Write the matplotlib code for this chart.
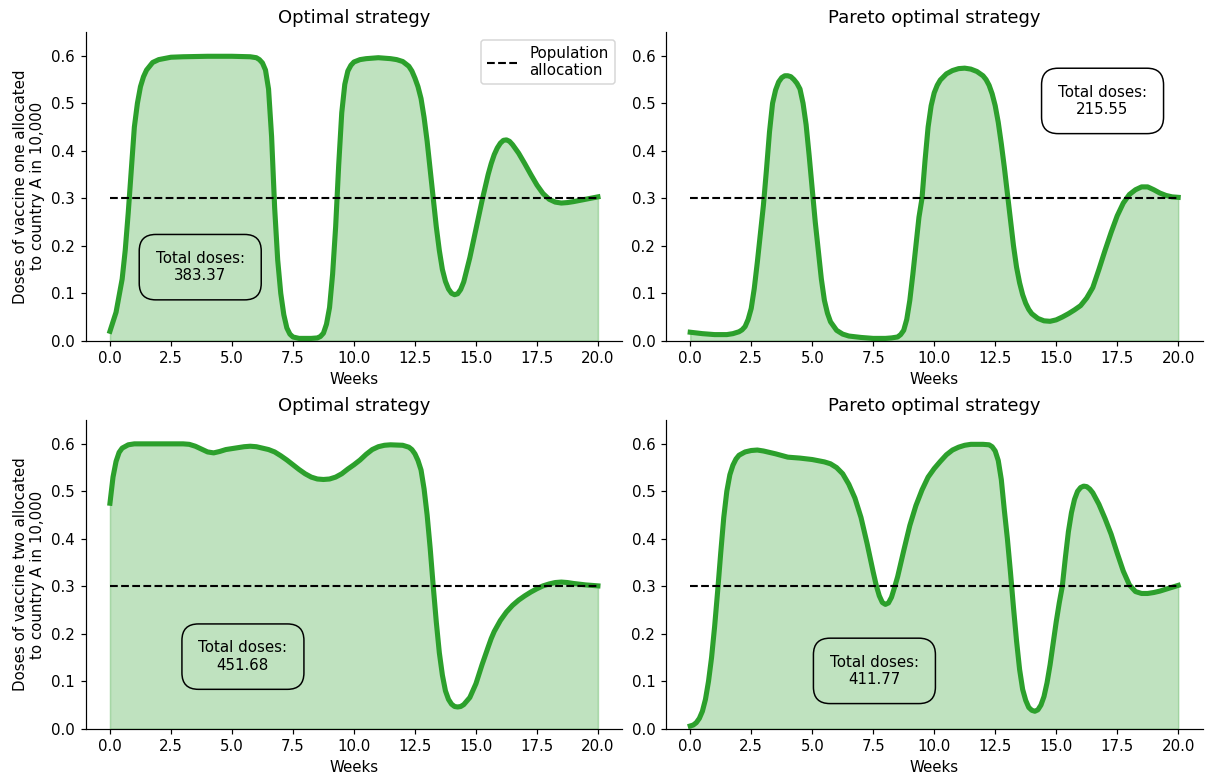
import matplotlib
matplotlib.use('Agg')
import matplotlib.pyplot as plt

# Vaccine one, optimal strategy
v1_opt_weeks = [0, 0.25, 0.5, 0.625, 0.75, 0.875, 1.0, 1.125, 1.25, 1.375, 1.5, 1.75, 2.0, 2.5,
                3.0, 4.0, 5.0, 5.75, 6.0, 6.125, 6.25, 6.375, 6.5, 6.625, 6.75, 6.875, 7.0,
                7.125, 7.25, 7.375, 7.5, 7.75, 8.0, 8.25, 8.5, 8.625, 8.75, 8.875, 9.0, 9.125,
                9.25, 9.375, 9.5, 9.625, 9.75, 9.875, 10.0, 10.25, 10.5, 11.0, 11.5, 11.75,
                12.0, 12.25, 12.375, 12.5, 12.625, 12.75, 12.875, 13.0, 13.125, 13.25, 13.375,
                13.5, 13.625, 13.75, 13.875, 14.0, 14.125, 14.25, 14.375, 14.5, 14.75, 15.0,
                15.25, 15.5, 15.625, 15.75, 15.875, 16.0, 16.125, 16.25, 16.375, 16.5, 16.75,
                17.0, 17.25, 17.5, 17.75, 18.0, 18.25, 18.5, 18.75, 19.0, 19.5, 20.0]
v1_opt_doses = [0.02, 0.06, 0.13, 0.19, 0.27, 0.36, 0.45, 0.50, 0.535, 0.556, 0.57, 0.586, 0.592,
                0.597, 0.598, 0.599, 0.599, 0.598, 0.596, 0.592, 0.585, 0.57, 0.53, 0.43, 0.28,
                0.17, 0.10, 0.055, 0.027, 0.014, 0.008, 0.005, 0.005, 0.005, 0.006, 0.009, 0.016,
                0.035, 0.07, 0.14, 0.24, 0.37, 0.48, 0.54, 0.568, 0.58, 0.587, 0.592, 0.594,
                0.596, 0.594, 0.592, 0.588, 0.578, 0.568, 0.553, 0.535, 0.51, 0.47, 0.42, 0.36,
                0.30, 0.24, 0.19, 0.15, 0.125, 0.109, 0.10, 0.097, 0.099, 0.108, 0.124, 0.175,
                0.235, 0.295, 0.35, 0.373, 0.392, 0.406, 0.416, 0.422, 0.423, 0.42, 0.413, 0.395,
                0.373, 0.35, 0.328, 0.31, 0.298, 0.292, 0.29, 0.291, 0.293, 0.298, 0.303]

# Vaccine one, Pareto optimal strategy
v1_par_weeks = [0, 0.5, 1.0, 1.5, 1.75, 2.0, 2.125, 2.25, 2.375, 2.5, 2.625, 2.75, 2.875, 3.0,
                3.125, 3.25, 3.375, 3.5, 3.625, 3.75, 3.875, 4.0, 4.125, 4.25, 4.375, 4.5,
                4.625, 4.75, 4.875, 5.0, 5.125, 5.25, 5.375, 5.5, 5.625, 5.75, 6.0, 6.25, 6.5,
                7.0, 7.5, 8.0, 8.25, 8.5, 8.625, 8.75, 8.875, 9.0, 9.125, 9.25, 9.375, 9.5,
                9.625, 9.75, 9.875, 10.0, 10.125, 10.25, 10.5, 10.75, 11.0, 11.25, 11.5, 11.75,
                12.0, 12.125, 12.25, 12.375, 12.5, 12.625, 12.75, 12.875, 13.0, 13.125, 13.25,
                13.375, 13.5, 13.625, 13.75, 13.875, 14.0, 14.25, 14.5, 14.75, 15.0, 15.25,
                15.5, 15.75, 16.0, 16.25, 16.5, 16.75, 17.0, 17.25, 17.5, 17.75, 18.0, 18.25,
                18.5, 18.75, 19.0, 19.25, 19.5, 19.75, 20.0]
v1_par_doses = [0.018, 0.015, 0.013, 0.013, 0.015, 0.019, 0.023, 0.03, 0.045, 0.068, 0.11, 0.165,
                0.225, 0.285, 0.36, 0.44, 0.5, 0.528, 0.545, 0.554, 0.558, 0.558, 0.556, 0.55,
                0.542, 0.53, 0.5, 0.455, 0.39, 0.32, 0.25, 0.19, 0.13, 0.085, 0.058, 0.04, 0.022,
                0.014, 0.01, 0.007, 0.005, 0.005, 0.006, 0.008, 0.013, 0.022, 0.045, 0.085, 0.14,
                0.2, 0.26, 0.30, 0.38, 0.45, 0.495, 0.522, 0.538, 0.549, 0.562, 0.569, 0.573,
                0.574, 0.572, 0.567, 0.558, 0.55, 0.538, 0.52, 0.495, 0.46, 0.415, 0.365, 0.31,
                0.255, 0.2, 0.155, 0.122, 0.097, 0.079, 0.066, 0.057, 0.047, 0.042, 0.041, 0.044,
                0.05, 0.057, 0.065, 0.074, 0.09, 0.112, 0.15, 0.19, 0.228, 0.263, 0.29, 0.308,
                0.318, 0.324, 0.324, 0.318, 0.311, 0.306, 0.303, 0.302]

# Vaccine two, optimal strategy
v2_opt_weeks = [0, 0.125, 0.25, 0.375, 0.5, 0.75, 1.0, 3.0, 3.25, 3.5, 3.75, 4.0, 4.25, 4.5,
                4.75, 5.0, 5.5, 5.75, 6.0, 6.5, 6.75, 7.0, 7.25, 7.5, 7.75, 8.0, 8.25, 8.5,
                8.75, 9.0, 9.25, 9.5, 9.75, 10.0, 10.25, 10.5, 10.75, 11.0, 11.25, 11.5, 12.0,
                12.25, 12.375, 12.5, 12.625, 12.75, 12.875, 13.0, 13.125, 13.25, 13.375, 13.5,
                13.625, 13.75, 13.875, 14.0, 14.125, 14.25, 14.375, 14.5, 14.75, 15.0, 15.25,
                15.5, 15.625, 15.75, 16.0, 16.25, 16.5, 16.75, 17.0, 17.25, 17.5, 17.75, 18.0,
                18.25, 18.5, 18.75, 19.0, 19.5, 20.0]
v2_opt_doses = [0.475, 0.53, 0.563, 0.582, 0.591, 0.598, 0.6, 0.6, 0.599, 0.595, 0.589, 0.583,
                0.581, 0.584, 0.588, 0.59, 0.594, 0.595, 0.594, 0.588, 0.583, 0.575, 0.566, 0.556,
                0.546, 0.537, 0.53, 0.526, 0.525, 0.526, 0.53, 0.537, 0.547, 0.556, 0.566, 0.578,
                0.588, 0.594, 0.597, 0.598, 0.597, 0.593, 0.588, 0.579, 0.565, 0.545, 0.505, 0.45,
                0.38, 0.30, 0.225, 0.16, 0.113, 0.08, 0.062, 0.052, 0.047, 0.046, 0.047, 0.051,
                0.066, 0.095, 0.135, 0.172, 0.19, 0.205, 0.228, 0.246, 0.26, 0.271, 0.28, 0.288,
                0.295, 0.301, 0.305, 0.308, 0.309, 0.308, 0.306, 0.303, 0.301]

# Vaccine two, Pareto optimal strategy
v2_par_weeks = [0, 0.125, 0.25, 0.375, 0.5, 0.625, 0.75, 0.875, 1.0, 1.125, 1.25, 1.375, 1.5,
                1.625, 1.75, 1.875, 2.0, 2.25, 2.5, 2.75, 3.0, 3.5, 4.0, 4.5, 5.0, 5.5, 5.75,
                6.0, 6.25, 6.5, 6.75, 7.0, 7.25, 7.5, 7.625, 7.75, 7.875, 8.0, 8.125, 8.25,
                8.375, 8.5, 8.75, 9.0, 9.25, 9.5, 9.75, 10.0, 10.25, 10.5, 10.75, 11.0, 11.25,
                11.5, 12.0, 12.25, 12.375, 12.5, 12.625, 12.75, 12.875, 13.0, 13.125, 13.25,
                13.375, 13.5, 13.625, 13.75, 13.875, 14.0, 14.125, 14.25, 14.375, 14.5, 14.625,
                14.75, 14.875, 15.0, 15.125, 15.25, 15.375, 15.5, 15.625, 15.75, 15.875, 16.0,
                16.125, 16.25, 16.375, 16.5, 16.75, 17.0, 17.25, 17.5, 17.75, 18.0, 18.25, 18.5,
                18.75, 19.0, 19.25, 19.5, 19.75, 20.0]
v2_par_doses = [0.006, 0.008, 0.013, 0.022, 0.037, 0.062, 0.1, 0.15, 0.215, 0.29, 0.37, 0.445,
                0.5, 0.535, 0.555, 0.568, 0.576, 0.583, 0.586, 0.587, 0.585, 0.579, 0.572, 0.57,
                0.567, 0.562, 0.558, 0.55, 0.537, 0.515, 0.486, 0.445, 0.39, 0.33, 0.302, 0.28,
                0.266, 0.262, 0.265, 0.277, 0.298, 0.32, 0.375, 0.428, 0.47, 0.503, 0.53, 0.548,
                0.563, 0.577, 0.587, 0.593, 0.597, 0.599, 0.599, 0.598, 0.594, 0.585, 0.565,
                0.525, 0.46, 0.4, 0.33, 0.255, 0.185, 0.125, 0.083, 0.06, 0.045, 0.039, 0.037,
                0.04, 0.05, 0.068, 0.097, 0.135, 0.18, 0.225, 0.265, 0.3, 0.36, 0.415, 0.455,
                0.483, 0.5, 0.508, 0.511, 0.51, 0.505, 0.497, 0.473, 0.443, 0.41, 0.37, 0.332,
                0.303, 0.289, 0.285, 0.285, 0.287, 0.29, 0.294, 0.298, 0.302]

population_share = 0.3
total_doses = ['383.37', '215.55', '451.68', '411.77']
titles = ['Optimal strategy', 'Pareto optimal strategy'] * 2
ylabels = ['Doses of vaccine one allocated\nto country A in 10,000',
           'Doses of vaccine two allocated\nto country A in 10,000']
box_pos = [(3.7, 0.155), (16.9, 0.505), (5.45, 0.152), (7.55, 0.122)]

series = [(v1_opt_weeks, v1_opt_doses), (v1_par_weeks, v1_par_doses),
          (v2_opt_weeks, v2_opt_doses), (v2_par_weeks, v2_par_doses)]

fig, axes = plt.subplots(2, 2, figsize=(1205 / 108, 782 / 108), dpi=108)
fig.subplots_adjust(left=0.071, right=0.998, bottom=0.068, top=0.959,
                    wspace=0.081, hspace=0.257)

for i, ax in enumerate(axes.flat):
    wk, vals = series[i]
    ax.plot(wk, vals, color='tab:green', lw=3.4, solid_joinstyle='round')
    ax.fill_between(wk, vals, color='tab:green', alpha=0.3)
    ax.plot([0, 20], [population_share, population_share],
            'k--', lw=1.4, label='Population\nallocation')
    ax.set_ylim(0, 0.65)
    ax.set_xlim(-1, 21)
    ax.set_title(titles[i])
    ax.set_xlabel('Weeks')
    ax.text(box_pos[i][0], box_pos[i][1], 'Total doses:\n' + total_doses[i],
            ha='center', va='center',
            bbox=dict(boxstyle='round,pad=1.1', fc='none', ec='black'))
    ax.spines['top'].set_visible(False)
    ax.spines['right'].set_visible(False)
    if i % 2 == 0:
        ax.set_ylabel(ylabels[i // 2])

axes[0, 0].legend(loc='upper right')

plt.savefig('out.png', dpi=108)
